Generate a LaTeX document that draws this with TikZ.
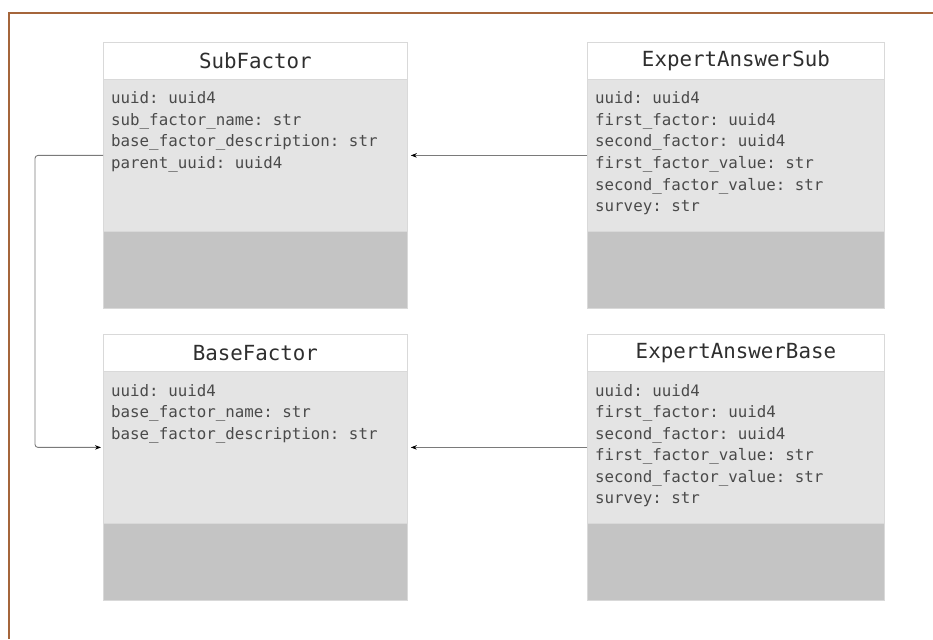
\documentclass[tikz,border=0pt]{standalone}
\usepackage{fontspec}
\setmonofont{DejaVu Sans Mono}
\usetikzlibrary{arrows.meta}
\definecolor{framebrown}{HTML}{A5653B}
\definecolor{boxline}{HTML}{D9D9D9}
\definecolor{bodygray}{HTML}{E4E4E4}
\definecolor{footgray}{HTML}{C4C4C4}
\definecolor{fieldtext}{HTML}{4A4A4A}
\definecolor{titletext}{HTML}{2E2E2E}
\definecolor{connline}{HTML}{7A7A7A}
\tikzset{
  header/.style={draw=boxline, line width=0.8pt, fill=white, minimum height=37pt,
    inner sep=0pt, anchor=north west, text=titletext, font=\fontsize{20.8}{24}\selectfont\ttfamily},
  body/.style={draw=boxline, line width=0.8pt, fill=bodygray, minimum height=152pt,
    inner sep=0pt, anchor=north west},
  footer/.style={draw=boxline, line width=0.8pt, fill=footgray, minimum height=77pt,
    inner sep=0pt, anchor=north west},
  field/.style={anchor=base west, inner sep=0pt, text=fieldtext, font=\fontsize{15.8}{21.5}\selectfont\ttfamily},
  conn/.style={draw=connline, line width=0.9pt, -{Stealth[length=6pt, width=4.5pt, black]}},
}
\newcommand{\umlbox}[6]{% name, x, y, title, width, fields
  \node[body, minimum width=#5pt] (#1b) at (#2,#3+37) {};
  \node[footer, minimum width=#5pt] (#1f) at (#2,#3+189) {};
  \node[header, minimum width=#5pt] (#1h) at (#2,#3) {#4};
  \foreach \fld [count=\i] in {#6} {
    \node[field] (#1l\i) at (#2+8,#3+62+21.5*\i-21.5) {\fld};
  }
}
\begin{document}
\begin{tikzpicture}[x=1pt, y=-1pt]
\useasboundingbox (0,0) rectangle (933,639);
\fill[white] (0,0) rectangle (933,639);
% frame
\coordinate (frbl) at (9,639);
\coordinate (frtl) at (9,13);
\coordinate (frtr) at (933,13);
\draw[framebrown, line width=2pt] (frbl) -- (frtl) -- (frtr);

\umlbox{sf}{103}{42}{SubFactor}{304}{uuid: uuid4, sub\_factor\_name: str, base\_factor\_description: str, parent\_uuid: uuid4}
\umlbox{eas}{587}{42}{ExpertAnswerSub}{297}{uuid: uuid4, first\_factor: uuid4, second\_factor: uuid4, first\_factor\_value: str, second\_factor\_value: str, survey: str}
\umlbox{bf}{103}{334}{BaseFactor}{304}{uuid: uuid4, base\_factor\_name: str, base\_factor\_description: str}
\umlbox{eab}{587}{334}{ExpertAnswerBase}{297}{uuid: uuid4, first\_factor: uuid4, second\_factor: uuid4, first\_factor\_value: str, second\_factor\_value: str, survey: str}

\draw[conn] (easb.west) -- ([xshift=3pt]sfb.east);
\draw[conn] (eabb.west) -- ([xshift=3pt]bfb.east);
\draw[conn, rounded corners=3pt] (sfb.west) -- ++(-68,0) |- ([xshift=-2pt]bfb.west);
\end{tikzpicture}
\end{document}
